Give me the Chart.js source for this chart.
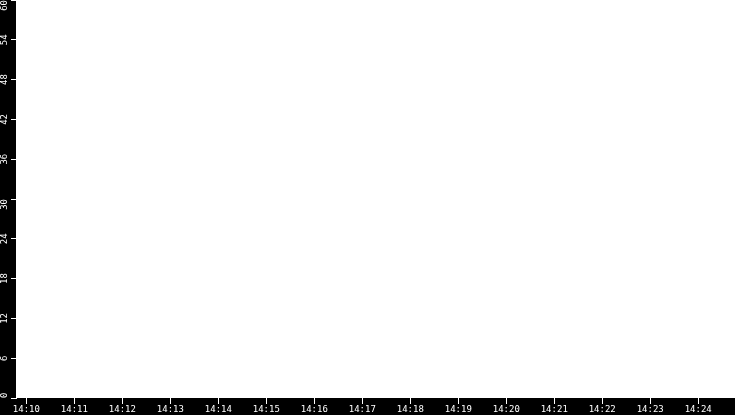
<!DOCTYPE html>
<html>
<head>
<meta charset="utf-8">
<script src="https://cdn.jsdelivr.net/npm/chart.js@4"></script>
<style>
  html, body { margin: 0; padding: 0; background: #000; }
  #wrap { width: 735px; height: 415px; position: relative; }
</style>
</head>
<body>
<div id="wrap"><canvas id="c"></canvas></div>
<script>
// Empty live chart: no samples in the window yet.
const sampleTimes = [];   // seconds since midnight
const sampleValues = [];

const xTickLabels = ['14:10', '14:11', '14:12', '14:13', '14:14', '14:15', '14:16', '14:17',
                     '14:18', '14:19', '14:20', '14:21', '14:22', '14:23', '14:24'];
const lowerYTicks = [0, 6, 12, 18, 24, 30];
const upperYTicks = [36, 42, 48, 54, 60];

// visible window (seconds since midnight)
const windowStart = 50987;
const windowEnd = 51886;

function toSeconds(label) {
  const [h, m] = label.split(':').map(Number);
  return h * 3600 + m * 60;
}
function fmtTime(sec) {
  const h = Math.floor(sec / 3600), m = Math.floor((sec % 3600) / 60);
  return h + ':' + String(m).padStart(2, '0');
}

const FONT = { family: '"DejaVu Sans Mono", monospace', size: 9 };

const plotBg = {
  id: 'plotBg',
  beforeDraw(chart) {
    const { ctx, chartArea: a } = chart;
    ctx.save();
    ctx.fillStyle = '#000';
    ctx.fillRect(0, 0, chart.width, chart.height);
    ctx.fillStyle = '#fff';
    ctx.fillRect(a.left, a.top, a.right - a.left, a.bottom - a.top);

    // keep rotated y labels inside their own axis band (like the original)
    ctx.font = FONT.size + 'px ' + FONT.family;
    for (const id of ['y', 'y2']) {
      const s = chart.scales[id];
      const items = s._computeLabelItems(a);
      for (const it of items) {
        const half = ctx.measureText(String(it.label)).width / 2;
        const t = it.options.translation;
        t[1] = Math.min(Math.max(t[1], s.top + half), s.bottom - half);
      }
      s._labelItems = items;
    }
    ctx.restore();
  },
};

// no label overhang padding, fixed strip sizes
function noPad(s) {
  s.paddingTop = s.paddingBottom = s.paddingLeft = s.paddingRight = 0;
}

function yAxis(min, max, ticks, showBorder) {
  return {
    type: 'linear',
    position: 'left',
    stack: 'left',
    stackWeight: 1,
    min, max,
    afterBuildTicks: s => { s.ticks = ticks.map(v => ({ value: v })); },
    afterFit: s => { s.width = 16; noPad(s); },
    border: { display: showBorder, color: '#fff', width: 1 },
    grid: { drawOnChartArea: false, drawTicks: true, tickLength: 5, color: '#fff', tickColor: '#fff' },
    ticks: {
      color: '#fff', font: FONT, padding: 1,
      minRotation: 90, maxRotation: 90, crossAlign: 'center',
    },
  };
}

new Chart(document.getElementById('c'), {
  type: 'line',
  data: {
    datasets: [{
      data: sampleTimes.map((t, i) => ({ x: t, y: sampleValues[i] })),
      borderColor: '#1f77b4',
      borderWidth: 1,
      pointRadius: 0,
      yAxisID: 'y',
    }],
  },
  options: {
    responsive: true,
    maintainAspectRatio: false,
    animation: false,
    layout: { padding: 0 },
    plugins: { legend: { display: false }, tooltip: { enabled: false } },
    scales: {
      x: {
        type: 'linear',
        min: windowStart, max: windowEnd,
        afterBuildTicks: s => { s.ticks = xTickLabels.map(l => ({ value: toSeconds(l) })); },
        afterFit: s => { s.height = 17; noPad(s); },
        border: { display: false },
        grid: { drawOnChartArea: false, drawTicks: true, tickLength: 6, color: '#fff', tickColor: '#fff' },
        ticks: { color: '#fff', font: FONT, padding: 0, maxRotation: 0, autoSkip: false,
                 callback: v => fmtTime(v) },
      },
      y: yAxis(0, 30, lowerYTicks, true),
      y2: yAxis(30, 60, upperYTicks, false),
    },
  },
  plugins: [plotBg],
});
</script>
</body>
</html>
